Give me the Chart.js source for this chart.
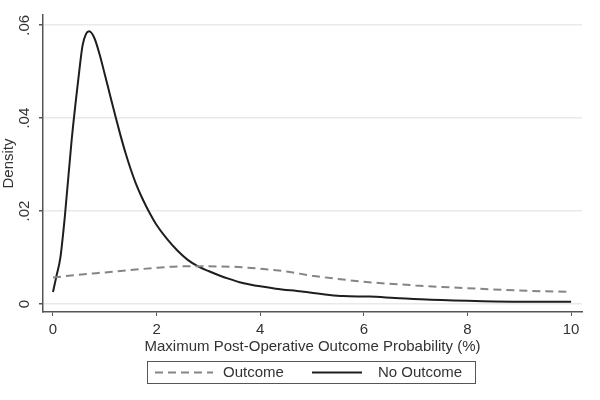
<!DOCTYPE html>
<html>
<head>
<meta charset="utf-8">
<script src="https://cdn.jsdelivr.net/npm/chart.js@4.4.1/dist/chart.umd.min.js"></script>
<style>
  html, body { margin: 0; padding: 0; background: #fff; }
  #wrap { width: 600px; height: 400px; }
</style>
</head>
<body>
<div id="wrap"><canvas id="densityChart" width="600" height="400"></canvas></div>
<script>
// ---------------- data ----------------
var xNoOutcome = [0, 0.07, 0.14, 0.23, 0.36, 0.49, 0.57, 0.64, 0.70, 0.80, 0.90, 1.0, 1.1, 1.2, 1.3, 1.4, 1.5, 1.6, 1.7, 1.8, 1.9, 2.0, 2.2, 2.4, 2.6, 2.8, 3.0, 3.2, 3.4, 3.6, 3.8, 4.0, 4.3, 4.8, 5.3, 5.6, 6.1, 6.6, 7.3, 8.3, 9.0, 10];
var yNoOutcome = [0.0026, 0.0062, 0.0098, 0.0190, 0.0353, 0.0485, 0.0556, 0.0582, 0.0587, 0.0572, 0.0537, 0.0494, 0.0450, 0.0406, 0.0364, 0.0325, 0.0290, 0.0259, 0.0233, 0.0210, 0.0189, 0.0170, 0.0140, 0.0115, 0.0095, 0.0081, 0.0071, 0.0062, 0.0054, 0.0047, 0.0042, 0.0038, 0.0033, 0.0027, 0.0020, 0.0017, 0.0016, 0.0013, 0.0009, 0.0006, 0.0005, 0.0005];

var xOutcome = [0, 0.5, 1, 1.5, 2, 2.5, 3, 3.5, 4, 4.5, 5, 6, 7, 8, 9, 10];
var yOutcome = [0.0057, 0.0063, 0.0068, 0.0073, 0.0078, 0.0081, 0.0081, 0.0080, 0.0076, 0.0070, 0.0061, 0.0048, 0.0040, 0.0034, 0.0029, 0.0026];

var xTicks = [0, 2, 4, 6, 8, 10];
var yTicks = [0, 0.02, 0.04, 0.06];
var yTickLabels = ["0", ".02", ".04", ".06"];

var seriesNames = ["Outcome", "No Outcome"];
var xTitle = "Maximum Post-Operative Outcome Probability (%)";
var yTitle = "Density";

// ---------------- helpers ----------------
function toPoints(xs, ys) {
	var pts = [];
	for (var i = 0; i < xs.length; i++) {
		pts.push({ x: xs[i], y: ys[i] });
	}
	return pts;
}

var FONT = "'Liberation Sans', Arial, sans-serif";
var TEXT = "#333";
var AXIS = "#555";

// y tick labels are rotated in the original, chart.js can't rotate them on a vertical axis
var yLabelsPlugin = {
	id: "yLabels",
	afterDraw: function(chart) {
		var ctx = chart.ctx;
		var ys = chart.scales.y;
		ctx.save();
		ctx.fillStyle = TEXT;
		ctx.font = "15px " + FONT;
		ctx.textAlign = "center";
		ctx.textBaseline = "middle";
		for (var i = 0; i < yTicks.length; i++) {
			ctx.save();
			ctx.translate(25, ys.getPixelForValue(yTicks[i]));
			ctx.rotate(-Math.PI / 2);
			ctx.fillText(yTickLabels[i], 0, 0);
			ctx.restore();
		}
		ctx.translate(9, (chart.chartArea.top + chart.chartArea.bottom) / 2);
		ctx.rotate(-Math.PI / 2);
		ctx.fillText(yTitle, 0, 0);
		ctx.restore();
	}
};

// boxed legend like stata
var boxLegendPlugin = {
	id: "boxLegend",
	afterDraw: function(chart) {
		var ctx = chart.ctx;
		var ds = chart.data.datasets;
		ctx.save();
		ctx.strokeStyle = AXIS;
		ctx.lineWidth = 1;
		ctx.strokeRect(147.5, 361.5, 328, 22);

		var cy = 372.5;
		ctx.font = "15px " + FONT;
		ctx.fillStyle = TEXT;
		ctx.textBaseline = "middle";
		ctx.textAlign = "left";

		// outcome (dashed)
		ctx.strokeStyle = ds[0].borderColor;
		ctx.lineWidth = ds[0].borderWidth;
		ctx.setLineDash(ds[0].borderDash);
		ctx.beginPath();
		ctx.moveTo(155, cy);
		ctx.lineTo(213, cy);
		ctx.stroke();
		ctx.fillText(ds[0].label, 223, cy);

		// no outcome (solid)
		ctx.strokeStyle = ds[1].borderColor;
		ctx.lineWidth = ds[1].borderWidth;
		ctx.setLineDash([]);
		ctx.beginPath();
		ctx.moveTo(312, cy);
		ctx.lineTo(362, cy);
		ctx.stroke();
		ctx.fillText(ds[1].label, 378, cy);
		ctx.restore();
	}
};

var ctx = document.getElementById("densityChart").getContext("2d");
var densityChart = new Chart(ctx, {
	type: "line",
	data: {
		datasets: [
			{
				label: seriesNames[0],
				data: toPoints(xOutcome, yOutcome),
				borderColor: "#858585",
				borderWidth: 2,
				borderDash: [8, 5],
				pointRadius: 0,
				fill: false,
				cubicInterpolationMode: "monotone"
			},
			{
				label: seriesNames[1],
				data: toPoints(xNoOutcome, yNoOutcome),
				borderColor: "#1e1e1e",
				borderWidth: 2,
				pointRadius: 0,
				fill: false,
				cubicInterpolationMode: "monotone"
			}
		]
	},
	options: {
		responsive: false,
		animation: false,
		layout: { padding: { top: 15, right: 18, left: 0, bottom: 0 } },
		plugins: {
			legend: { display: false },
			tooltip: { enabled: false }
		},
		scales: {
			x: {
				type: "linear",
				min: -0.193,
				max: 10.21,
				afterBuildTicks: function(scale) {
					scale.ticks = xTicks.map(function(v) { return { value: v }; });
				},
				afterFit: function(scale) {
					scale.height = 88;
				},
				grid: {
					drawOnChartArea: false,
					drawTicks: true,
					tickLength: 4,
					tickColor: AXIS
				},
				border: { display: true, color: AXIS, width: 1.5 },
				ticks: {
					color: TEXT,
					font: { family: FONT, size: 15 },
					padding: 5,
					maxRotation: 0,
					callback: function(v) { return String(v); }
				},
				title: {
					display: true,
					text: xTitle,
					color: TEXT,
					font: { family: FONT, size: 15 },
					padding: { top: 0, bottom: 44 }
				}
			},
			y: {
				type: "linear",
				min: -0.00172,
				max: 0.0622,
				afterBuildTicks: function(scale) {
					scale.ticks = yTicks.map(function(v) { return { value: v }; });
				},
				afterFit: function(scale) {
					scale.width = 43;
				},
				grid: {
					color: "#e9e9e9",
					lineWidth: 1.5,
					drawTicks: true,
					tickLength: 4,
					tickColor: AXIS
				},
				border: { display: true, color: AXIS, width: 1.5 },
				ticks: { display: false }
			}
		}
	},
	plugins: [yLabelsPlugin, boxLegendPlugin]
});
</script>
</body>
</html>
